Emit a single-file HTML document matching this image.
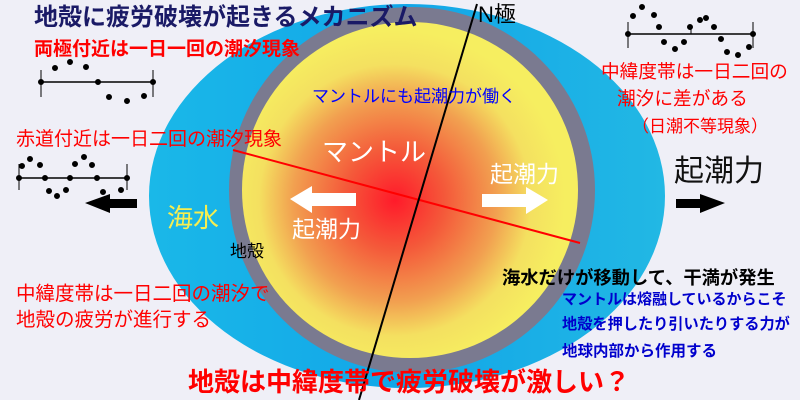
<!DOCTYPE html>
<html><head><meta charset="utf-8"><style>
body{margin:0;width:800px;height:400px;overflow:hidden;background:#efeff7;font-family:"Liberation Sans","Noto Sans CJK JP",sans-serif;}
.t{position:absolute;white-space:nowrap;line-height:1;}
</style></head><body>
<svg width="800" height="400" style="position:absolute;left:0;top:0">
<defs>
<radialGradient id="m" cx="395" cy="200" r="170" gradientUnits="userSpaceOnUse">
<stop offset="0" stop-color="#ff1a2a"/><stop offset="0.3" stop-color="#f45a3a"/><stop offset="0.6" stop-color="#f2a050"/><stop offset="0.8" stop-color="#f4e060"/><stop offset="1" stop-color="#f6ee60"/>
</radialGradient>
<linearGradient id="o" x1="0" y1="0" x2="1" y2="0"><stop offset="0" stop-color="#1ab8e8"/><stop offset="0.5" stop-color="#12a6e8"/><stop offset="1" stop-color="#22b8e4"/></linearGradient>
</defs>
<ellipse cx="407" cy="196" rx="258" ry="192" fill="url(#o)"/>
<circle cx="412" cy="190" r="183" fill="#7a7a90"/>
<circle cx="410" cy="190" r="168" fill="url(#m)"/>
<line x1="233" y1="150" x2="580" y2="243" stroke="#f00" stroke-width="2"/>
<line x1="477" y1="4" x2="359" y2="400" stroke="#000" stroke-width="2"/>
<polygon points="85,203 110,194 110,199 137,199 137,208 110,208 110,213" fill="#000"/>
<polygon points="725,203 700,194 700,199 676,199 676,208 700,208 700,213" fill="#000"/>
<polygon points="290,199 312,186 312,193 356,193 356,206 312,206 312,213" fill="#fff"/>
<polygon points="548,200 526,187 526,194 482,194 482,207 526,207 526,214" fill="#fff"/>
<g fill="#000" stroke="#000">
<line x1="41" y1="82" x2="153" y2="82" stroke-width="1.5"/>
<line x1="41" y1="70" x2="41" y2="97"/><line x1="153" y1="70" x2="153" y2="97"/>
<circle cx="41" cy="82" r="2.5"/><circle cx="98" cy="82" r="2.5"/><circle cx="153" cy="82" r="2.5"/>
<circle cx="55" cy="68" r="2.5"/><circle cx="70" cy="62" r="2.5"/><circle cx="86" cy="67" r="2.5"/>
<circle cx="109" cy="97" r="2.5"/><circle cx="127" cy="101" r="2.5"/><circle cx="144" cy="96" r="2.5"/>
<line x1="19" y1="178" x2="127" y2="178" stroke-width="1.5"/>
<line x1="19" y1="164" x2="19" y2="190"/><line x1="127" y1="164" x2="127" y2="190"/>
<circle cx="19" cy="178" r="2.5"/><circle cx="45" cy="178" r="2.5"/><circle cx="70" cy="178" r="2.5"/><circle cx="97" cy="178" r="2.5"/><circle cx="127" cy="178" r="2.5"/>
<circle cx="22" cy="166" r="2.5"/><circle cx="30" cy="159" r="2.5"/><circle cx="40" cy="165" r="2.5"/>
<circle cx="75" cy="164" r="2.5"/><circle cx="84" cy="157" r="2.5"/><circle cx="92" cy="165" r="2.5"/>
<circle cx="49" cy="191" r="2.5"/><circle cx="57" cy="196" r="2.5"/><circle cx="66" cy="190" r="2.5"/>
<circle cx="103" cy="192" r="2.5"/><circle cx="121" cy="190" r="2.5"/>
<line x1="628" y1="34" x2="753" y2="34" stroke-width="1.5"/>
<line x1="628" y1="22" x2="628" y2="48"/><line x1="753" y1="22" x2="753" y2="48"/><line x1="691" y1="26" x2="691" y2="34"/>
<circle cx="628" cy="34" r="2.5"/><circle cx="753" cy="34" r="2.5"/>
<circle cx="633" cy="16" r="2.5"/><circle cx="642" cy="7" r="2.5"/><circle cx="654" cy="15" r="2.5"/><circle cx="659" cy="27" r="2.5"/>
<circle cx="664" cy="42" r="2.5"/><circle cx="675" cy="49" r="2.5"/><circle cx="684" cy="42" r="2.5"/>
<circle cx="690" cy="27" r="2.5"/><circle cx="700" cy="20" r="2.5"/><circle cx="706" cy="18" r="2.5"/><circle cx="714" cy="27" r="2.5"/>
<circle cx="721" cy="39" r="2.5"/><circle cx="727" cy="52" r="2.5"/><circle cx="738" cy="55" r="2.5"/><circle cx="749" cy="47" r="2.5"/>
</g>
</svg>
<div class="t" style="left:34px;top:6px;font-size:24px;font-weight:bold;color:#1a1a66">地殻に疲労破壊が起きるメカニズム</div>
<div class="t" style="left:478px;top:4px;font-size:22px;color:#000">N極</div>
<div class="t" style="left:34px;top:40px;font-size:19px;font-weight:bold;color:#f00">両極付近は一日一回の潮汐現象</div>
<div class="t" style="left:16px;top:130px;font-size:19px;color:#f00">赤道付近は一日二回の潮汐現象</div>
<div class="t" style="left:312px;top:88px;font-size:17px;color:#00f">マントルにも起潮力が働く</div>
<div class="t" style="left:322px;top:139px;font-size:26px;color:#fff">マントル</div>
<div class="t" style="left:490px;top:163px;font-size:23px;color:#fff">起潮力</div>
<div class="t" style="left:292px;top:218px;font-size:23px;color:#fff">起潮力</div>
<div class="t" style="left:167px;top:205px;font-size:26px;color:#f6ee50">海水</div>
<div class="t" style="left:230px;top:243px;font-size:17px;color:#000">地殻</div>
<div class="t" style="left:601px;top:63px;font-size:18.7px;color:#f00">中緯度帯は一日二回の</div>
<div class="t" style="left:617px;top:90px;font-size:18.7px;color:#f00">潮汐に差がある</div>
<div class="t" style="left:632px;top:118px;font-size:17px;color:#f00">（日潮不等現象）</div>
<div class="t" style="left:674px;top:157px;font-size:30px;color:#111">起潮力</div>
<div class="t" style="left:16px;top:285px;font-size:19.5px;color:#f00">中緯度帯は一日二回の潮汐で</div>
<div class="t" style="left:16px;top:311px;font-size:19.5px;color:#f00">地殻の疲労が進行する</div>
<div class="t" style="left:502px;top:269px;font-size:18.3px;font-weight:bold;color:#000">海水だけが移動して、干満が発生</div>
<div class="t" style="left:562px;top:292px;font-size:15px;font-weight:bold;color:#00c">マントルは熔融しているからこそ</div>
<div class="t" style="left:562px;top:317px;font-size:15.2px;font-weight:bold;color:#00c">地殻を押したり引いたりする力が</div>
<div class="t" style="left:562px;top:344px;font-size:15.5px;font-weight:bold;color:#00c">地球内部から作用する</div>
<div class="t" style="left:188px;top:369px;font-size:26px;font-weight:bold;color:#f00">地殻は中緯度帯で疲労破壊が激しい？</div>
</body></html>
